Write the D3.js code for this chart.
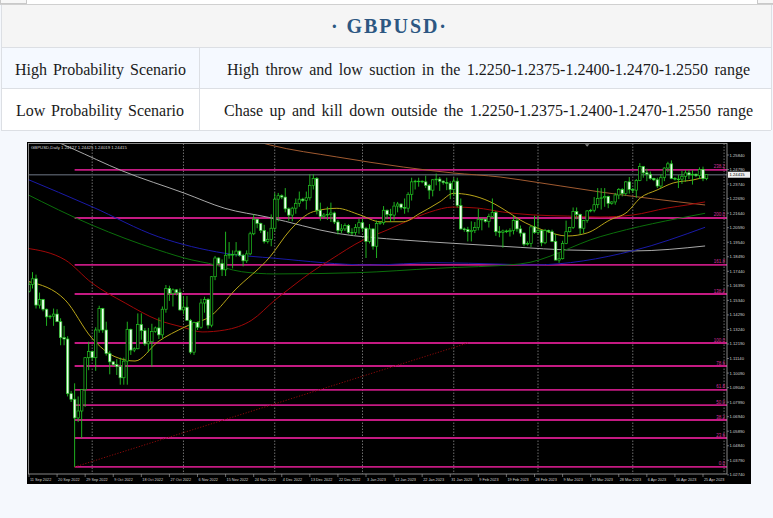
<!DOCTYPE html>
<html><head><meta charset="utf-8">
<script src="https://cdn.jsdelivr.net/npm/d3@7"></script>
<style>html,body{margin:0;padding:0;background:#f5f8fd;} svg{display:block}</style>
</head><body>
<svg id="c" width="773" height="518"></svg>
<script>
// ---------------- data ----------------
const titleText = "· GBPUSD·";
const rowLabels = ["High Probability Scenario", "Low Probability Scenario"];
const rowTexts = [
  "High throw and low suction in the 1.2250-1.2375-1.2400-1.2470-1.2550 range",
  "Chase up and kill down outside the 1.2250-1.2375-1.2400-1.2470-1.2550 range"
];
const chartCaption = "GBPUSD,Daily  1.24127 1.24425 1.24019 1.24415";

const opens = [1.1600,1.1650,1.1690,1.1500,1.1540,1.1470,1.1415,1.1420,1.1435,1.1380,1.1265,1.1255,1.0860,1.0820,1.0685,1.0735,1.0890,1.1120,
1.1165,1.1120,1.1320,1.1475,1.1320,1.1150,1.1090,1.1070,1.1055,1.0975,1.1095,1.1325,1.1175,1.1185,1.1360,1.1315,1.1220,1.1235,1.1310,1.1335,1.1285,1.1470,1.1620,1.1585,1.1610,1.1590,
1.1465,1.1485,1.1390,1.1160,1.1375,1.1340,1.1515,1.1540,1.1355,1.1705,1.1840,1.1800,1.1755,1.1860,1.1865,1.1865,1.1890,1.1860,1.1820,1.1870,1.2015,1.2120,1.2090,1.2040,1.1960,1.1975,
1.2055,1.2265,1.2290,1.2280,1.2195,1.2150,1.2200,1.2235,1.2265,1.2255,1.2275,1.2365,1.2415,1.2185,1.2140,1.2150,1.2155,1.2165,1.2100,1.2040,1.2050,1.2075,1.2025,1.2025,1.2060,
1.2095,1.2055,1.1960,1.2050,1.1925,1.2090,1.2095,1.2185,1.2155,1.2150,1.2215,1.2230,1.2205,1.2200,1.2300,1.2390,1.2395,1.2395,1.2390,1.2365,1.2330,1.2405,1.2410,1.2395,1.2385,1.2380,
1.2335,1.2395,1.2220,1.2050,1.2045,1.2030,1.2040,1.2060,1.2120,1.2120,1.2105,1.2140,1.2170,1.2030,1.2025,1.2035,1.2030,1.2040,1.2110,1.2050,1.2020,1.1940,1.1945,1.2065,
1.2025,1.2040,1.1950,1.2040,1.2030,1.1960,1.1825,1.1835,1.1945,1.2030,1.2060,1.2175,1.2155,1.2055,1.2110,1.2180,1.2185,1.2225,1.2270,1.2275,1.2285,1.2235,1.2245,1.2295,1.2335,1.2305,1.2390,
1.2335,1.2330,1.2400,1.2500,1.2455,1.2445,1.2415,1.2405,1.2360,1.2420,1.2490,1.2520,1.2415,1.2410,1.2410,1.2430,1.2455,1.2440,1.2445,1.2435,1.2480,1.2413];
const highs = [1.1665,1.1738,1.1720,1.1590,1.1545,1.1475,1.1430,1.1475,1.1470,1.1405,1.1350,1.1275,1.0880,1.0935,1.0840,1.0890,1.1125,1.1235,
1.1170,1.1340,1.1495,1.1480,1.1380,1.1170,1.1095,1.1110,1.1120,1.1120,1.1380,1.1330,1.1195,1.1440,1.1440,1.1335,1.1335,1.1365,1.1345,1.1410,1.1490,1.1645,1.1640,1.1620,1.1615,1.1620,
1.1565,1.1565,1.1400,1.1380,1.1380,1.1545,1.1560,1.1550,1.1710,1.1855,1.1845,1.1830,1.2030,1.1955,1.1895,1.1955,1.1895,1.1870,1.1895,1.2030,1.2155,1.2125,1.2095,1.2080,1.2030,1.2155,
1.2310,1.2310,1.2300,1.2345,1.2205,1.2210,1.2270,1.2320,1.2275,1.2320,1.2445,1.2445,1.2425,1.2240,1.2165,1.2210,1.2240,1.2175,1.2115,1.2085,1.2090,1.2085,1.2055,1.2085,1.2125,
1.2125,1.2065,1.2085,1.2055,1.2110,1.2105,1.2215,1.2190,1.2195,1.2245,1.2245,1.2235,1.2270,1.2315,1.2420,1.2405,1.2420,1.2400,1.2435,1.2375,1.2410,1.2450,1.2425,1.2400,1.2420,1.2395,
1.2420,1.2420,1.2270,1.2060,1.2065,1.2105,1.2100,1.2195,1.2130,1.2125,1.2160,1.2270,1.2180,1.2070,1.2045,1.2045,1.2055,1.2145,1.2130,1.2075,1.2025,1.1960,1.2075,1.2145,
1.2145,1.2045,1.2050,1.2045,1.2045,1.2015,1.1875,1.1965,1.2110,1.2065,1.2205,1.2205,1.2160,1.2115,1.2185,1.2195,1.2280,1.2345,1.2345,1.2345,1.2290,1.2250,1.2310,1.2345,1.2345,1.2395,1.2425,
1.2345,1.2410,1.2525,1.2505,1.2485,1.2465,1.2420,1.2420,1.2445,1.2495,1.2535,1.2545,1.2425,1.2440,1.2470,1.2475,1.2475,1.2475,1.2450,1.2495,1.2500,1.2443];
const lows = [1.1590,1.1620,1.1475,1.1475,1.1455,1.1350,1.1400,1.1350,1.1380,1.1210,1.1210,1.0840,1.0800,1.0331,1.0655,1.0540,1.0765,1.1030,
1.1100,1.1025,1.1300,1.1300,1.1135,1.1000,1.1060,1.0995,1.0925,1.0925,1.0925,1.1140,1.1160,1.1180,1.1250,1.1205,1.1160,1.1055,1.1300,1.1255,1.1260,1.1445,1.1530,1.1490,1.1570,1.1460,
1.1435,1.1390,1.1145,1.1140,1.1320,1.1330,1.1445,1.1330,1.1340,1.1680,1.1790,1.1710,1.1710,1.1835,1.1765,1.1850,1.1850,1.1780,1.1805,1.1860,1.2005,1.2055,1.2020,1.1945,1.1945,1.1925,
1.2030,1.2105,1.2265,1.2170,1.2110,1.2105,1.2160,1.2210,1.2245,1.2190,1.2255,1.2335,1.2155,1.2110,1.2125,1.2115,1.2100,1.2085,1.2010,1.2020,1.2035,1.2015,1.2005,1.2005,1.2015,
1.2030,1.1840,1.1945,1.1900,1.1840,1.2080,1.2080,1.2120,1.2100,1.2110,1.2170,1.2190,1.2160,1.2170,1.2255,1.2335,1.2355,1.2380,1.2345,1.2265,1.2285,1.2365,1.2325,1.2370,1.2330,1.2265,
1.2290,1.2205,1.2045,1.2030,1.1960,1.1960,1.2020,1.2040,1.2040,1.2095,1.2060,1.2130,1.2000,1.1990,1.1915,1.2020,1.1995,1.2010,1.2030,1.1995,1.1925,1.1930,1.1920,1.2015,
1.2010,1.1925,1.1940,1.2020,1.1955,1.1825,1.1805,1.1830,1.1940,1.2025,1.2050,1.2120,1.2010,1.2020,1.2095,1.2170,1.2170,1.2200,1.2190,1.2210,1.2200,1.2225,1.2225,1.2265,1.2285,1.2290,1.2305,
1.2310,1.2275,1.2395,1.2420,1.2395,1.2405,1.2395,1.2345,1.2345,1.2395,1.2460,1.2410,1.2400,1.2345,1.2375,1.2390,1.2410,1.2370,1.2425,1.2410,1.2395,1.2402];
const closes = [1.1650,1.1690,1.1500,1.1540,1.1470,1.1415,1.1420,1.1435,1.1380,1.1265,1.1255,1.0860,1.0820,1.0685,1.0735,1.0890,1.1120,1.1165,
1.1120,1.1320,1.1475,1.1320,1.1150,1.1090,1.1070,1.1055,1.0975,1.1095,1.1325,1.1175,1.1185,1.1360,1.1315,1.1220,1.1235,1.1310,1.1335,1.1285,1.1470,1.1620,1.1585,1.1610,1.1590,1.1465,
1.1485,1.1390,1.1160,1.1375,1.1340,1.1515,1.1540,1.1355,1.1705,1.1840,1.1800,1.1755,1.1860,1.1865,1.1865,1.1890,1.1860,1.1820,1.1870,1.2015,1.2120,1.2090,1.2040,1.1960,1.1975,1.2055,
1.2265,1.2290,1.2280,1.2195,1.2150,1.2200,1.2235,1.2265,1.2255,1.2275,1.2365,1.2415,1.2185,1.2140,1.2150,1.2155,1.2165,1.2100,1.2040,1.2050,1.2075,1.2025,1.2025,1.2060,1.2095,
1.2055,1.1960,1.2050,1.1925,1.2090,1.2095,1.2185,1.2155,1.2150,1.2215,1.2230,1.2205,1.2200,1.2300,1.2390,1.2395,1.2395,1.2390,1.2365,1.2330,1.2405,1.2410,1.2395,1.2385,1.2380,1.2335,
1.2395,1.2220,1.2050,1.2045,1.2030,1.2040,1.2060,1.2120,1.2120,1.2105,1.2140,1.2170,1.2030,1.2025,1.2035,1.2030,1.2040,1.2110,1.2050,1.2020,1.1940,1.1945,1.2065,1.2025,
1.2040,1.1950,1.2040,1.2030,1.1960,1.1825,1.1835,1.1945,1.2030,1.2060,1.2175,1.2155,1.2055,1.2110,1.2180,1.2185,1.2225,1.2270,1.2275,1.2285,1.2235,1.2245,1.2295,1.2335,1.2305,1.2390,1.2335,
1.2330,1.2400,1.2500,1.2455,1.2445,1.2415,1.2405,1.2360,1.2420,1.2490,1.2520,1.2415,1.2410,1.2410,1.2430,1.2455,1.2440,1.2445,1.2435,1.2480,1.2413,1.2442];

const dateTickIdx = [0,8,16,24,32,40,48,56,64,72,80,88,96,104,112,120,128,136,144,152,160,168,176,184,192];
const dateTickLabels = ["11 Sep 2022","20 Sep 2022","29 Sep 2022","9 Oct 2022","18 Oct 2022","27 Oct 2022","6 Nov 2022","15 Nov 2022","24 Nov 2022","4 Dec 2022","13 Dec 2022","22 Dec 2022","3 Jan 2023","12 Jan 2023","22 Jan 2023","31 Jan 2023","9 Feb 2023","19 Feb 2023","28 Feb 2023","9 Mar 2023","19 Mar 2023","28 Mar 2023","6 Apr 2023","16 Apr 2023","25 Apr 2023"];
const monthStartIdx = [18,44,70,95,121,145,172,198];
const priceTicks = [1.25840,1.24790,1.23740,1.22690,1.21640,1.20590,1.19540,1.18490,1.17440,1.16390,1.15340,1.14290,1.13240,1.12190,1.11140,1.10090,1.09040,1.07990,1.06940,1.05890,1.04840,1.03790,1.02740];

const fibLabels = ["0.0","23.6","38.2","50.0","61.8","78.6","100.0","138.2","161.8","200.0","238.2"];
const fibPrices = [1.0331,1.0540,1.0670,1.0778,1.0887,1.1060,1.1226,1.1580,1.1790,1.2129,1.2476];
const fibStartIdx = 13;
const trendIdx = [13,125];
const trendPrice = [1.0331,1.1226];
const bidPrice = 1.24415;
const bidLabel = "1.24415";

const maYellow = [[0,1.1669],[10.3,1.1537],[17.9,1.1262],[24.5,1.1127],[30.2,1.1096],[36.8,1.1236],[44.4,1.1342],[52.1,1.1428],[58.7,1.1609],[68.7,1.1850],[74.4,1.2042],[81,1.2175],[87.7,1.2199],[94.3,1.2151],[100,1.2102],[106.6,1.2102],[111.4,1.2163],[117.1,1.2247],[120.9,1.2307],[125.6,1.2295],[131.3,1.2247],[137,1.2163],[139.9,1.2115],[146.4,1.2042],[153.3,1.1999],[159,1.2021],[165.5,1.2115],[170.4,1.2172],[174.1,1.2273],[178.9,1.2331],[183.5,1.2382],[189.2,1.2404],[192.6,1.2425]];
const maRed = [[-1.1,1.1912],[10.3,1.1826],[17.9,1.1660],[27.4,1.1515],[36.8,1.1392],[43.6,1.1342],[49.3,1.1306],[55.8,1.1320],[63.5,1.1392],[70.1,1.1537],[74.4,1.1623],[80.1,1.1732],[85.8,1.1826],[95.2,1.1970],[102,1.2042],[108.5,1.2115],[114.2,1.2172],[120.8,1.2208],[127.6,1.2201],[135,1.2172],[143.6,1.2151],[153.3,1.2143],[162.7,1.2136],[172.1,1.2151],[181.8,1.2201],[187.5,1.2223],[192.6,1.2245]];
const maBrown = [[55,1.2760],[68.7,1.2656],[87.7,1.2570],[106.6,1.2497],[120.8,1.2454],[134.2,1.2425],[139.9,1.2405],[162.7,1.2317],[192.6,1.2223]];
const maGrey = [[5,1.2712],[12.2,1.2632],[26.4,1.2471],[44.4,1.2307],[55.8,1.2199],[68.2,1.2134],[87.7,1.2018],[106.6,1.1970],[120.9,1.1946],[139.9,1.1917],[153.3,1.1898],[172.1,1.1891],[192.6,1.1927]];
const maBlue = [[-1.1,1.2416],[17.9,1.2211],[36.8,1.1994],[55.8,1.1874],[70.1,1.1838],[97.2,1.1790],[116.2,1.1806],[134.2,1.1796],[143.6,1.1790],[172.1,1.1893],[192.6,1.2062]];
const maGreen = [[-1.1,1.2307],[17.9,1.2078],[36.8,1.1898],[46.4,1.1826],[51.1,1.1802],[60.6,1.1741],[70.1,1.1725],[93.4,1.1734],[116.2,1.1766],[139.9,1.1797],[162.7,1.1994],[192.6,1.2163]];

// ---------------- drawing ----------------
const svg = d3.select("#c");
const W = 773, H = 518;
svg.append("rect").attr("width", W).attr("height", H).attr("fill", "#f5f8fd");

// top strip
svg.append("rect").attr("x",0).attr("y",0).attr("width",W).attr("height",5).attr("fill","#ffffff");
svg.append("rect").attr("x",0.5).attr("y",-1).attr("width",26).attr("height",4.5).attr("fill","#f7f7f7").attr("stroke","#c9c9c9");
svg.append("rect").attr("x",757.5).attr("y",-1).attr("width",16).attr("height",4.5).attr("fill","#f7f7f7").attr("stroke","#c9c9c9");
svg.append("line").attr("x1",0).attr("x2",W).attr("y1",4.5).attr("y2",4.5).attr("stroke","#d0d0d0");

// table
const tbl = svg.append("g");
tbl.append("rect").attr("x",1).attr("y",5).attr("width",770).attr("height",42).attr("fill","#f5f5f5");
tbl.append("rect").attr("x",1).attr("y",47).attr("width",770).attr("height",41).attr("fill","#f5f9ff");
tbl.append("rect").attr("x",1).attr("y",88).attr("width",770).attr("height",42).attr("fill","#ffffff");
const bc = "#dcdfe4";
[47.5, 88.5, 130.5].forEach(yy => tbl.append("line").attr("x1",1).attr("x2",771).attr("y1",yy).attr("y2",yy).attr("stroke",bc));
tbl.append("line").attr("x1",1.5).attr("x2",1.5).attr("y1",5).attr("y2",130).attr("stroke",bc);
tbl.append("line").attr("x1",771.5).attr("x2",771.5).attr("y1",5).attr("y2",130).attr("stroke",bc);
tbl.append("line").attr("x1",199.5).attr("x2",199.5).attr("y1",47).attr("y2",130).attr("stroke",bc);

tbl.append("text").attr("x",331).attr("y",33).attr("textLength",115).attr("lengthAdjust","spacing")
  .style("font-family","'Liberation Serif', 'Times New Roman', serif").style("font-weight","bold")
  .style("font-size","20px").attr("fill","#2c5782").text(titleText);

function justify(g, str, x0, x1, yb) {
  const words = str.split(" ");
  const nodes = words.map(w => g.append("text").attr("y", yb)
    .style("font-family","'Liberation Serif', 'Times New Roman', serif")
    .style("font-size","16px").attr("fill","#1a1a1a").text(w));
  const widths = nodes.map(n => n.node().getComputedTextLength());
  const gap = (x1 - x0 - d3.sum(widths)) / (words.length - 1);
  let xx = x0;
  nodes.forEach((n, i) => { n.attr("x", xx); xx += widths[i] + gap; });
}
justify(tbl, rowLabels[0], 15, 186, 75);
justify(tbl, rowLabels[1], 16, 184, 116);
justify(tbl, rowTexts[0], 227, 750, 75);
justify(tbl, rowTexts[1], 224, 753, 116);

// chart
const ch = svg.append("g");
ch.append("rect").attr("x",27).attr("y",142).attr("width",724).attr("height",342).attr("fill","#000000");

const PL = 28.5, PR = 727, PT = 143.5, PB = 474;
const x = d3.scaleLinear().domain([0,192]).range([29,703]);
const y = d3.scaleLinear().domain([1.0280,1.2584]).range([474,155]);

svg.append("defs").append("clipPath").attr("id","plotclip")
  .append("rect").attr("x",PL).attr("y",PT).attr("width",PR-PL).attr("height",PB-PT);
const plot = ch.append("g").attr("clip-path","url(#plotclip)");

// month separators
plot.selectAll("line.sep").data(monthStartIdx).join("line").attr("class","sep")
  .attr("x1",d=>x(d)).attr("x2",d=>x(d)).attr("y1",PT).attr("y2",PB)
  .attr("stroke","#8a8a8a").attr("stroke-width",0.8).attr("stroke-dasharray","1.5,1.5");

// fib lines
const fibData = fibPrices.map((p,i)=>({p, l:fibLabels[i]}));
plot.selectAll("line.fib").data(fibData).join("line").attr("class","fib")
  .attr("x1",x(fibStartIdx)).attr("x2",PR).attr("y1",d=>y(d.p)).attr("y2",d=>y(d.p))
  .attr("stroke","#c41a82").attr("stroke-width",1.8);
plot.selectAll("text.fibl").data(fibData).join("text").attr("class","fibl")
  .attr("x",PR-2).attr("y",d=>y(d.p)-1.5).attr("text-anchor","end")
  .style("font-family","'Liberation Sans', Arial, sans-serif").style("font-size","4.5px")
  .attr("fill","#d0309a").text(d=>d.l);

// bid line
plot.append("line").attr("x1",PL).attr("x2",PR).attr("y1",y(bidPrice)).attr("y2",y(bidPrice))
  .attr("stroke","#4a505a").attr("stroke-width",1.6);

// trend line
plot.append("line").attr("x1",x(trendIdx[0])).attr("y1",y(trendPrice[0]))
  .attr("x2",x(trendIdx[1])).attr("y2",y(trendPrice[1]))
  .attr("stroke","#8b0a0a").attr("stroke-width",1).attr("stroke-dasharray","1.2,1.6");

// moving averages
const lineGen = d3.line().x(d=>x(d[0])).y(d=>y(d[1])).curve(d3.curveMonotoneX);
[[maBrown,"#a05a30"],[maGrey,"#a8a8a8"],[maBlue,"#1a1aa8"],[maGreen,"#0b6e0b"],[maRed,"#a00808"],[maYellow,"#b8a418"]]
  .forEach(([data,col]) => plot.append("path").attr("d",lineGen(data)).attr("fill","none")
    .attr("stroke",col).attr("stroke-width",1));

// candles
const bars = opens.map((o,i)=>({i,o,h:highs[i],l:lows[i],c:closes[i]}));
const cg = plot.append("g");
cg.selectAll("line.wick").data(bars).join("line").attr("class","wick")
  .attr("x1",d=>x(d.i)).attr("x2",d=>x(d.i)).attr("y1",d=>y(d.h)).attr("y2",d=>y(d.l))
  .attr("stroke","#22c422").attr("stroke-width",0.9);
const bw = 2.5;
cg.selectAll("rect.body").data(bars).join("rect").attr("class","body")
  .attr("x",d=>x(d.i)-bw/2).attr("width",bw)
  .attr("y",d=>y(Math.max(d.o,d.c))).attr("height",d=>Math.max(0.6,Math.abs(y(d.o)-y(d.c))))
  .attr("fill",d=>d.c>=d.o ? "#000000" : "#effff0")
  .attr("stroke","#22c422").attr("stroke-width",0.7);

// frame
ch.append("rect").attr("x",PL).attr("y",PT).attr("width",PR-PL).attr("height",PB-PT)
  .attr("fill","none").attr("stroke","#a8a8a8").attr("stroke-width",0.8);

// caption
ch.append("text").attr("x",31).attr("y",149)
  .style("font-family","'Liberation Sans', Arial, sans-serif").style("font-size","4.3px")
  .attr("fill","#d8d8d8").text(chartCaption);
// chart shift marker
ch.append("path").attr("d",`M${x(159)-2.2},${PT+0.8} L${x(159)+2.2},${PT+0.8} L${x(159)},${PT+3.2} Z`).attr("fill","#8a8a8a");

// price axis
const pax = ch.append("g");
pax.selectAll("line").data(priceTicks).join("line")
  .attr("x1",PR).attr("x2",PR+2).attr("y1",d=>y(d)).attr("y2",d=>y(d)).attr("stroke","#a8a8a8").attr("stroke-width",0.6);
pax.selectAll("text").data(priceTicks).join("text")
  .attr("x",PR+2.5).attr("y",d=>y(d)+1.5)
  .style("font-family","'Liberation Sans', Arial, sans-serif").style("font-size","4.2px")
  .attr("fill","#cfcfcf").text(d=>d.toFixed(5));
pax.append("rect").attr("x",PR+1).attr("y",y(bidPrice)-3).attr("width",22).attr("height",6).attr("fill","#f0f0f0");
pax.append("text").attr("x",PR+2.5).attr("y",y(bidPrice)+1.5)
  .style("font-family","'Liberation Sans', Arial, sans-serif").style("font-size","4.2px")
  .attr("fill","#000").text(bidLabel);

// date axis
const dax = ch.append("g");
dax.selectAll("line").data(dateTickIdx).join("line")
  .attr("x1",d=>x(d)).attr("x2",d=>x(d)).attr("y1",PB).attr("y2",PB+3).attr("stroke","#a8a8a8").attr("stroke-width",0.6);
dax.selectAll("text").data(dateTickIdx).join("text")
  .attr("x",d=>x(d)+1).attr("y",480.5)
  .style("font-family","'Liberation Sans', Arial, sans-serif").style("font-size","3.8px")
  .attr("fill","#cfcfcf").text((d,i)=>dateTickLabels[i]);
</script>
</body></html>
